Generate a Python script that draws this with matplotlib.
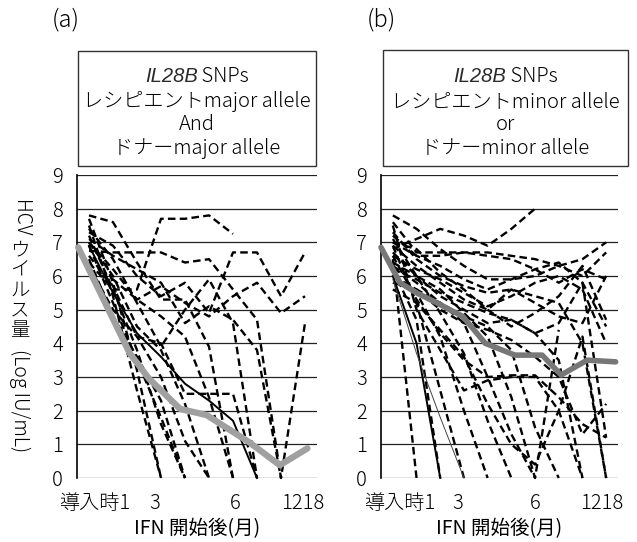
import numpy as np
import matplotlib
matplotlib.use('Agg')
import matplotlib.pyplot as plt
from matplotlib.patches import Rectangle

plt.rcParams['font.family'] = ['Noto Sans CJK JP', 'DejaVu Sans']
plt.rcParams['font.weight'] = 'light'

visits = np.arange(10)  # category slots on the x axis

# (a) recipient major allele and donor major allele
patients_a = [
    [7.8, 7.6, 6.4, 5.3, 5.3, 3.9, 0.0],
    [6.4, 5.6, 5.6, 7.7, 7.7, 7.8, 7.25],
    [6.75, 6.7, 6.7, 6.7, 6.4, 6.5, 5.6, 4.7, 0.0, 4.6],
    [7.3, 6.9, 6.0, 5.4, 5.8, 4.9, 6.7, 6.7, 5.4, 6.7],
    [7.0, 6.2, 5.3, 5.7, 5.2, 4.8, 5.4, 5.8, 4.9, 5.4],
    [7.1, 6.6, 6.2, 5.8, 4.6, 5.1, 4.7, 3.8, 0.0],
    [7.7, 5.8, 3.2, 0.0],
    [7.5, 5.4, 2.6, 0.0],
    [7.2, 5.6, 3.8, 1.6, 0.0],
    [6.9, 5.2, 3.5, 1.8, 0.0],
    [6.5, 4.8, 3.6, 2.3, 0.0],
    [6.3, 5.0, 4.2, 3.0, 1.1, 0.0],
    [6.6, 5.7, 4.2, 4.0, 2.5, 2.5, 2.5, 0.0],
    [7.0, 6.0, 4.5, 3.8, 2.2, 0.0],
    [6.1, 5.9, 5.3, 4.8, 4.2, 2.4, 0.0],
    [7.4, 6.5, 5.2, 3.9, 5.0, 5.9, 4.6, 0.0],
]
solid_a = [6.9, 5.5, 4.3, 3.6, 2.8, 2.3, 1.7, 0.0]
mean_a_x = [-0.45, 1.7, 2.5, 3.8, 4.9, 6.7, 7.95, 9.1]
mean_a_y = [6.85, 3.7, 2.95, 2.05, 1.87, 1.05, 0.38, 0.88]

# (b) recipient minor allele or donor minor allele
patients_b = [
    [6.8, 7.1, 7.4, 7.2, 6.9, 7.4, 8.0],
    [7.8, 7.4, 6.8, 6.3, 5.9, 5.9, 6.0, 6.3, 6.5, 7.0],
    [7.6, 6.7, 6.7, 6.7, 6.7, 6.6, 6.5, 6.3, 6.0, 6.7],
    [7.2, 6.6, 6.6, 6.7, 6.6, 6.5, 6.2, 5.8, 6.2, 5.9],
    [7.0, 6.6, 6.3, 5.9, 5.6, 5.9, 6.2, 6.4, 5.8, 4.5],
    [6.6, 6.2, 5.9, 5.5, 5.1, 5.4, 5.8, 6.0, 5.6, 4.0],
    [6.9, 6.3, 5.8, 5.3, 5.0, 5.6, 5.2, 4.8, 4.6, 6.0],
    [6.4, 6.0, 5.4, 5.0, 4.6, 4.7, 4.3, 4.6, 5.8, 1.2],
    [6.0, 5.6, 5.0, 4.6, 4.4, 4.1, 3.6, 3.0, 1.3, 2.2],
    [6.6, 5.3, 4.3, 3.5, 3.0, 3.05, 3.05, 2.4, 1.6, 1.2],
    [7.5, 5.0, 3.8, 2.6, 2.9, 3.0, 3.0, 2.0, 0.0],
    [6.5, 0.0],
    [6.2, 4.7, 0.0],
    [6.9, 5.2, 2.6, 0.0],
    [6.0, 5.5, 4.2, 2.0, 0.0],
    [7.1, 6.0, 4.9, 3.7, 1.7, 0.0],
    [6.3, 5.8, 5.2, 4.6, 3.0, 1.3, 0.0],
    [5.8, 5.6, 5.2, 4.8, 4.5, 3.8, 1.5, 0.0],
    [6.7, 6.0, 5.6, 4.9, 4.2, 2.4, 0.0, 4.4],
    [6.2, 5.9, 5.5, 5.2, 4.9, 4.7, 4.3, 3.5, 0.0],
    [7.3, 6.5, 6.0, 5.7, 5.5, 5.6, 5.4, 5.2, 4.0, 0.0],
    [5.6, 5.2, 4.4, 3.6, 2.2, 1.0, 0.4, 2.0, 4.2, 0.0],
    [7.0, 6.8, 6.1, 5.6, 5.0, 4.5, 4.9, 5.4, 6.3, 4.7],
]
solid_b = [6.0, 4.0, 0.0]
thin_b = [5.9, 3.7, 1.8, 0.0]
mean_b_x = [-0.5, 0.3, 1.0, 1.86, 2.95, 3.9, 5.15, 6.3, 7.1, 8.2, 9.4]
mean_b_y = [6.85, 5.8, 5.5, 5.2, 4.8, 4.0, 3.65, 3.65, 3.06, 3.5, 3.45]

tick_pos_a = [0.25, 2.75, 6.08, 8.9]
tick_pos_b = [0.3, 2.74, 6.0, 8.8]
tick_labels = ['導入時1', '3', '6', '1218']

W, H = 637, 542
fig = plt.figure(figsize=(W / 100, H / 100), dpi=100)
renderer = fig.canvas.get_renderer()


def px(x0, y0, x1, y1):
    return [x0 / W, 1 - y1 / H, (x1 - x0) / W, (y1 - y0) / H]


def draw_panel(ax, series, solid, thin, mx, my, mcolor, mlw, ticks):
    for s in series:
        ax.plot(visits[:len(s)], s, color='black', lw=1.7, dashes=(3.2, 1.8),
                clip_on=False, zorder=3)
    ax.plot(visits[:len(solid)], solid, color='black', lw=1.4, clip_on=False, zorder=3)
    if thin:
        ax.plot(visits[:len(thin)], thin, color='#444444', lw=0.7, clip_on=False, zorder=3)
    ax.plot(mx, my, color=mcolor, lw=mlw, solid_capstyle='round',
            solid_joinstyle='round', clip_on=False, zorder=4)
    ax.set_xlim(-0.5, 9.5)
    ax.set_ylim(0, 9)
    ax.set_yticks(range(10))
    ax.set_xticks(ticks)
    ax.set_xticklabels(tick_labels)
    ax.tick_params(axis='both', length=0, labelsize=14.5)
    ax.tick_params(axis='y', pad=10)
    ax.tick_params(axis='x', pad=11)
    ax.grid(axis='y', color='#222222', lw=0.9)
    ax.set_axisbelow(True)
    for side in ['top', 'right', 'bottom']:
        ax.spines[side].set_visible(False)
    ax.spines['left'].set_linewidth(1.2)
    ax.set_xlabel('IFN 開始後(月)', fontsize=14, labelpad=3)


ax1 = fig.add_axes(px(77, 175, 317, 478))
draw_panel(ax1, patients_a, solid_a, None, mean_a_x, mean_a_y, '#a0a0a0', 4.6, tick_pos_a)
ax2 = fig.add_axes(px(381, 175, 618, 478))
draw_panel(ax2, patients_b, solid_b, thin_b, mean_b_x, mean_b_y, '#777777', 4.0, tick_pos_b)

# panel letters
fig.text(66 / W, 1 - 20 / H, '(a)', fontsize=17, ha='center', va='center')
fig.text(381 / W, 1 - 20 / H, '(b)', fontsize=17, ha='center', va='center')

# header boxes
boxes = [
    (78, 51, 316, 166, ['レシピエントmajor allele', 'And', 'ドナーmajor allele']),
    (383, 50, 628, 166, ['レシピエントminor allele', 'or', 'ドナーminor allele']),
]
for x0, y0, x1, y1, lines in boxes:
    fig.patches.append(Rectangle((x0 / W, 1 - y1 / H), (x1 - x0) / W, (y1 - y0) / H,
                                 transform=fig.transFigure, fill=False,
                                 edgecolor='#333333', lw=1.0))
    cx = (x0 + x1) / 2
    # gene name in italics, followed by upright "SNPs"
    t1 = fig.text(0, 1 - 76 / H, 'IL28B', fontsize=14.5, family='Liberation Sans',
                  style='italic', weight='normal', color='#2a2a2a',
                  ha='left', va='center')
    t2 = fig.text(0, 1 - 76 / H, ' SNPs', fontsize=14.5, ha='left', va='center')
    w1 = t1.get_window_extent(renderer).width
    w2 = t2.get_window_extent(renderer).width
    left = cx - (w1 + w2) / 2
    t1.set_x(left / W)
    t2.set_x((left + w1) / W)
    for yy, t in zip([102, 125, 148], lines):
        fig.text(cx / W, 1 - yy / H, t, fontsize=14.5, ha='center', va='center')

# vertical y label: latin parts rotated, kana upright
fig.text(20 / W, 1 - 218 / H, 'HCV', fontsize=14, rotation=-90,
         ha='center', va='center', rotation_mode='anchor')
fig.text(20 / W, 1 - 290 / H, 'ウ\nイ\nル\nス\n量', fontsize=14,
         ha='center', va='center', linespacing=0.95)
fig.text(20 / W, 1 - 401 / H, '(Log IU/mL)', fontsize=14, rotation=-90,
         ha='center', va='center', rotation_mode='anchor')

fig.savefig('out.png', dpi=100)
